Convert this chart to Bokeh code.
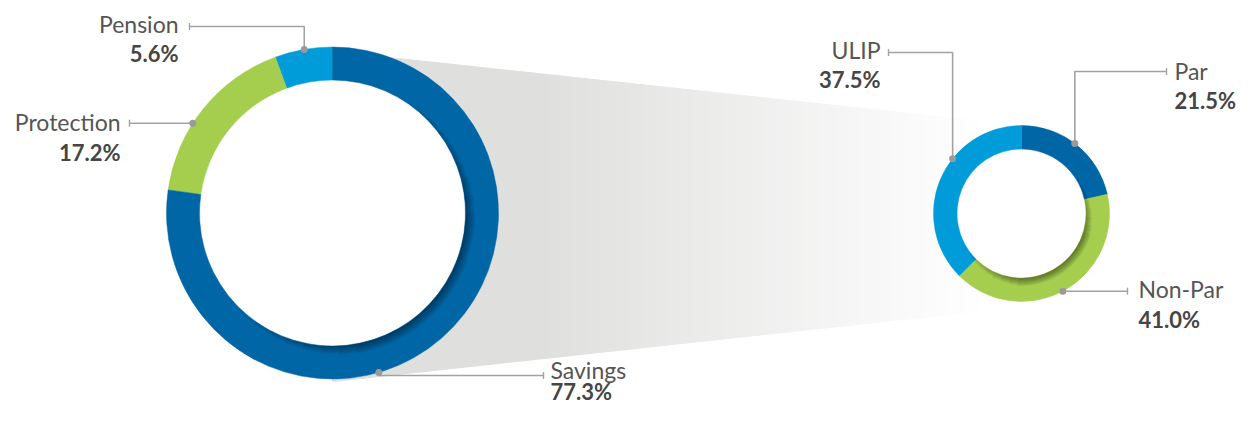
import numpy as np
from bokeh.plotting import figure
from bokeh.models import Range1d
from bokeh.core.properties import value
from bokeh.embed import file_html
from bokeh.resources import INLINE

# ---------------- data ----------------
big_labels = ["Pension", "Protection", "Savings"]
big_values = [5.6, 17.2, 77.3]
big_pct = ["5.6%", "17.2%", "77.3%"]

small_labels = ["Par", "Non-Par", "ULIP"]
small_values = [21.5, 41.0, 37.5]
small_pct = ["21.5%", "41.0%", "37.5%"]

# ---------------- styles / layout ----------------
DARK_BLUE = "#0066a6"
LIGHT_BLUE = "#009cda"
GREEN = "#a5cd4e"
big_colors = [LIGHT_BLUE, GREEN, DARK_BLUE]
small_colors = [DARK_BLUE, GREEN, LIGHT_BLUE]
LINE_C = "#a3a3a3"
LABEL_C = "#555555"
PCT_C = "#454545"
FONT = "Lato"

REF_H = 425


def Y(y):
    return REF_H - y


BIG = dict(cx=332.0, cy=212.5, r_out=166.0, r_in=133.0)
SMALL = dict(cx=1021.0, cy=213.0, r_out=88.0, r_in=64.5)

# leader layout: (dot angle deg, elbow y, end x, text x, align, label y, pct y)
big_lead = [
    (99.8, 26, 189, 178, "right", 23, 53),
    (147.3, None, 129, 120, "right", 121, 152),
    (286.2, 375, 543, 550, "left", 369, 391),
]
small_lead = [
    (52.7, 71, 1166, 1174, "left", 70, 100),
    (-62.0, None, 1127, 1138, "left", 288, 319),
    (141.5, 52, 888, 880, "right", 49, 79),
]

W, H = 1237, 409
p = figure(width=W, height=H, output_backend="svg", toolbar_location=None,
           x_range=Range1d(0, W), y_range=Range1d(Y(H), Y(0)),
           min_border=0, outline_line_color=None, background_fill_color="white",
           border_fill_color="white")
p.xaxis.visible = False
p.yaxis.visible = False
p.grid.visible = False

# ---------------- gradient connector ----------------
tl = (BIG["cx"], 51.0)
bl = (BIG["cx"], 381.0)
tr = (SMALL["cx"], 125.0)
br = (SMALL["cx"], 306.0)
N = 160
edges = np.linspace(tl[0], tr[0], N + 1)


def top_y(x):
    return tl[1] + (tr[1] - tl[1]) * (x - tl[0]) / (tr[0] - tl[0])


def bot_y(x):
    return bl[1] + (br[1] - bl[1]) * (x - bl[0]) / (br[0] - bl[0])


gray = np.array([223, 224, 222])
xs, ys, cols = [], [], []
for i in range(N):
    a, b = edges[i], edges[i + 1]
    xm = 0.5 * (a + b)
    t = np.clip((xm - 540) / (985 - 540), 0, 1)
    c = gray + (255 - gray) * t
    col = "#%02x%02x%02x" % tuple(int(round(v)) for v in c)
    xs.append([a, b + 0.6, b + 0.6, a])
    ys.append([Y(top_y(a)), Y(top_y(b)), Y(bot_y(b)), Y(bot_y(a))])
    cols.append(col)
p.patches(xs, ys, fill_color=cols, line_color=cols, line_width=1)

# white holes
for d in (BIG, SMALL):
    p.circle(x=[d["cx"]], y=[Y(d["cy"])], radius=d["r_in"] + 1,
             fill_color="white", line_color=None)


# ---------------- donuts ----------------
def donut(d, vals, colors, clockwise):
    v = np.array(vals, dtype=float)
    frac = v / v.sum()
    cum = np.concatenate([[0], np.cumsum(frac)])
    starts, ends = [], []
    for i in range(len(v)):
        if clockwise:
            s = 90 - 360 * cum[i + 1]
            e = 90 - 360 * cum[i]
        else:
            s = 90 + 360 * cum[i]
            e = 90 + 360 * cum[i + 1]
        starts.append(np.deg2rad(s))
        ends.append(np.deg2rad(e))
    n = len(v)
    p.annular_wedge(x=[d["cx"]] * n, y=[Y(d["cy"])] * n,
                    inner_radius=d["r_in"], outer_radius=d["r_out"],
                    start_angle=starts, end_angle=ends,
                    fill_color=colors, line_color=colors, line_width=0.5)


def inner_shadow(d, center_deg, max_half, max_w, layers=9, alpha=0.05):
    for k in range(layers):
        w = 1.2 + (max_w - 1.2) * k / (layers - 1)
        half = max_half - (max_half * 0.6) * k / (layers - 1)
        p.annular_wedge(x=[d["cx"]], y=[Y(d["cy"])],
                        inner_radius=d["r_in"], outer_radius=d["r_in"] + w,
                        start_angle=[np.deg2rad(center_deg - half)],
                        end_angle=[np.deg2rad(center_deg + half)],
                        fill_color="black", fill_alpha=alpha, line_color=None)


donut(BIG, big_values, big_colors, clockwise=False)
donut(SMALL, small_values, small_colors, clockwise=True)
inner_shadow(BIG, -40, 100, 10)
inner_shadow(SMALL, -55, 95, 8, alpha=0.05)


# ---------------- leaders and labels ----------------
def leaders(d, labels, pcts, specs):
    for lab, pct, (ang, elbow, end_x, tx, align, lb, pb) in zip(labels, pcts, specs):
        a = np.deg2rad(ang)
        dx = d["cx"] + d["r_out"] * np.cos(a)
        dy = d["cy"] - d["r_out"] * np.sin(a)
        if elbow is None:
            lx = [dx, end_x]
            ly = [Y(dy), Y(dy)]
            hy = dy
        else:
            lx = [dx, dx, end_x]
            ly = [Y(dy), Y(elbow), Y(elbow)]
            hy = elbow
        p.line(lx, ly, line_color=LINE_C, line_width=1.6)
        p.segment(x0=[end_x], y0=[Y(hy - 3.5)], x1=[end_x], y1=[Y(hy + 3.5)],
                  line_color=LINE_C, line_width=1.4)
        p.scatter([dx], [Y(dy)], size=7, marker="circle", fill_color="#9a9a9a",
                  line_color=None)
        p.text([tx], [Y(lb)], text=[lab], text_align=align, text_baseline="alphabetic",
               text_font=value(FONT), text_font_size="23px", text_color=LABEL_C)
        p.text([tx], [Y(pb)], text=[pct], text_align=align, text_baseline="alphabetic",
               text_font=value(FONT), text_font_size="22px", text_font_style="bold",
               text_color=PCT_C)


leaders(BIG, big_labels, big_pct, big_lead)
leaders(SMALL, small_labels, small_pct, small_lead)

open("out.html", "w").write(file_html(p, INLINE))
